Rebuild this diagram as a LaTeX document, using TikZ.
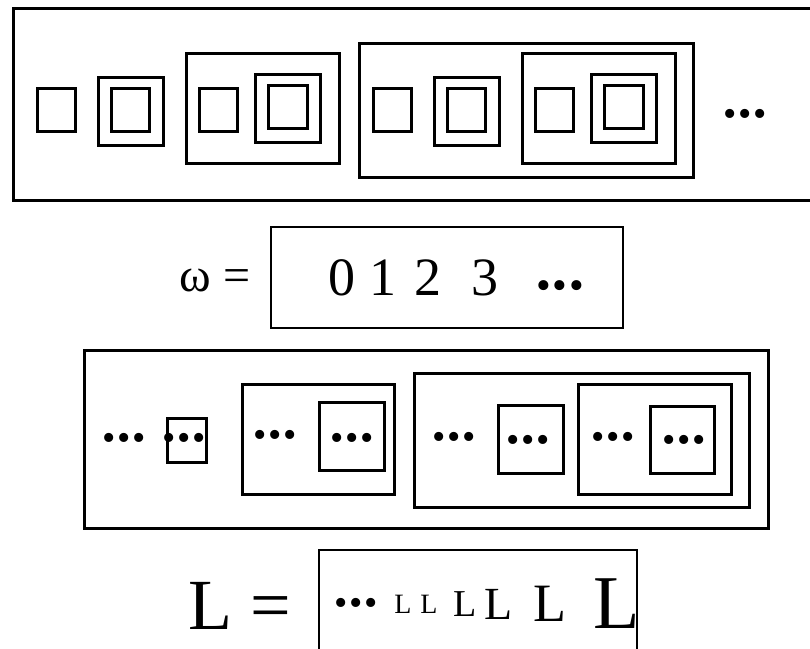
\documentclass[tikz,border=0pt]{standalone}
\usepackage{fontspec}
\setmainfont{Liberation Serif}

\newcommand{\dotrow}{•\kern0.9pt•\kern0.9pt•}

\tikzset{
  box/.style={draw, line width=1.5pt},
  dots/.style={inner sep=0pt, font=\fontsize{19}{19}\selectfont},
}

\begin{document}
\begin{tikzpicture}[x=0.5pt, y=-0.5pt]
    \useasboundingbox (0,0) rectangle (810,649);
    \clip (0,0) rectangle (810,649);
    % top row: outer frame
    \draw[box] (13,8) rectangle (830,200);
    % the first three groups, repeated inside the fourth one
    \foreach \dx in {0,336} {
      \draw[box] (37+\dx,88) rectangle (75+\dx,131);
      \draw[box] (98+\dx,77) rectangle (163+\dx,145);
      \draw[box] (111+\dx,88) rectangle (149+\dx,131);
      \draw[box] (186+\dx,53) rectangle (339+\dx,163);
      \draw[box] (199+\dx,88) rectangle (237+\dx,131);
      \draw[box] (255+\dx,74) rectangle (320+\dx,142);
      \draw[box] (268+\dx,85) rectangle (307+\dx,128);
    }
    % fourth group
    \draw[box] (359,43) rectangle (693,177);
    \node[dots] (topdots) at (745,118) {\dotrow};

    % omega
    \node[anchor=east, inner sep=0pt, font=\fontsize{24}{24}\selectfont] (omega) at (251,280) {ω =};
    \draw[box, line width=1.4pt] (271,227) rectangle (623,328);
    \foreach \n/\x in {0/342,1/383,2/428,3/485} {
      \node[font=\fontsize{27}{27}\selectfont] (d\n) at (\x,278) {\n};
    }
    \node[dots, font=\fontsize{21}{21}\selectfont] (omegadots) at (560,290) {\dotrow};

    % middle row: outer frame
    \draw[box] (84,350) rectangle (768,528);
    \node[dots] (mdots) at (124,442) {\dotrow};
    \draw[box] (167,418) rectangle (206,462);
    \node[dots] (mdotsa) at (184,442) {\dotrow};
    \draw[box] (242,384) rectangle (394,494);
    \node[dots] (mdotsb) at (275,439) {\dotrow};
    \draw[box] (319,402) rectangle (384,470);
    \node[dots] (mdotsc) at (352,442) {\dotrow};
    \draw[box] (414,373) rectangle (749,507);
    \node[dots] (mdotsd) at (454,441) {\dotrow};
    \draw[box] (498,405) rectangle (563,473);
    \node[dots] (mdotse) at (528,444) {\dotrow};
    \draw[box] (578,384) rectangle (731,494);
    \node[dots] (mdotsf) at (613,441) {\dotrow};
    \draw[box] (650,406) rectangle (714,473);
    \node[dots] (mdotsg) at (684,444) {\dotrow};

    % L
    \node[anchor=east, inner sep=0pt, font=\fontsize{36}{36}\selectfont] (lname) at (291,606) {L =};
    \draw[box, line width=1pt] (319,550) rectangle (637,680);
    \node[dots] (ldots) at (356,607) {\dotrow};
    \foreach \i/\x/\s in {1/403/14,2/429/14,3/465/19,4/499/23,5/550/27,6/617/38} {
      \node[font=\fontsize{\s}{\s}\selectfont] (l\i) at (\x,604) {L};
    }
\end{tikzpicture}
\end{document}
